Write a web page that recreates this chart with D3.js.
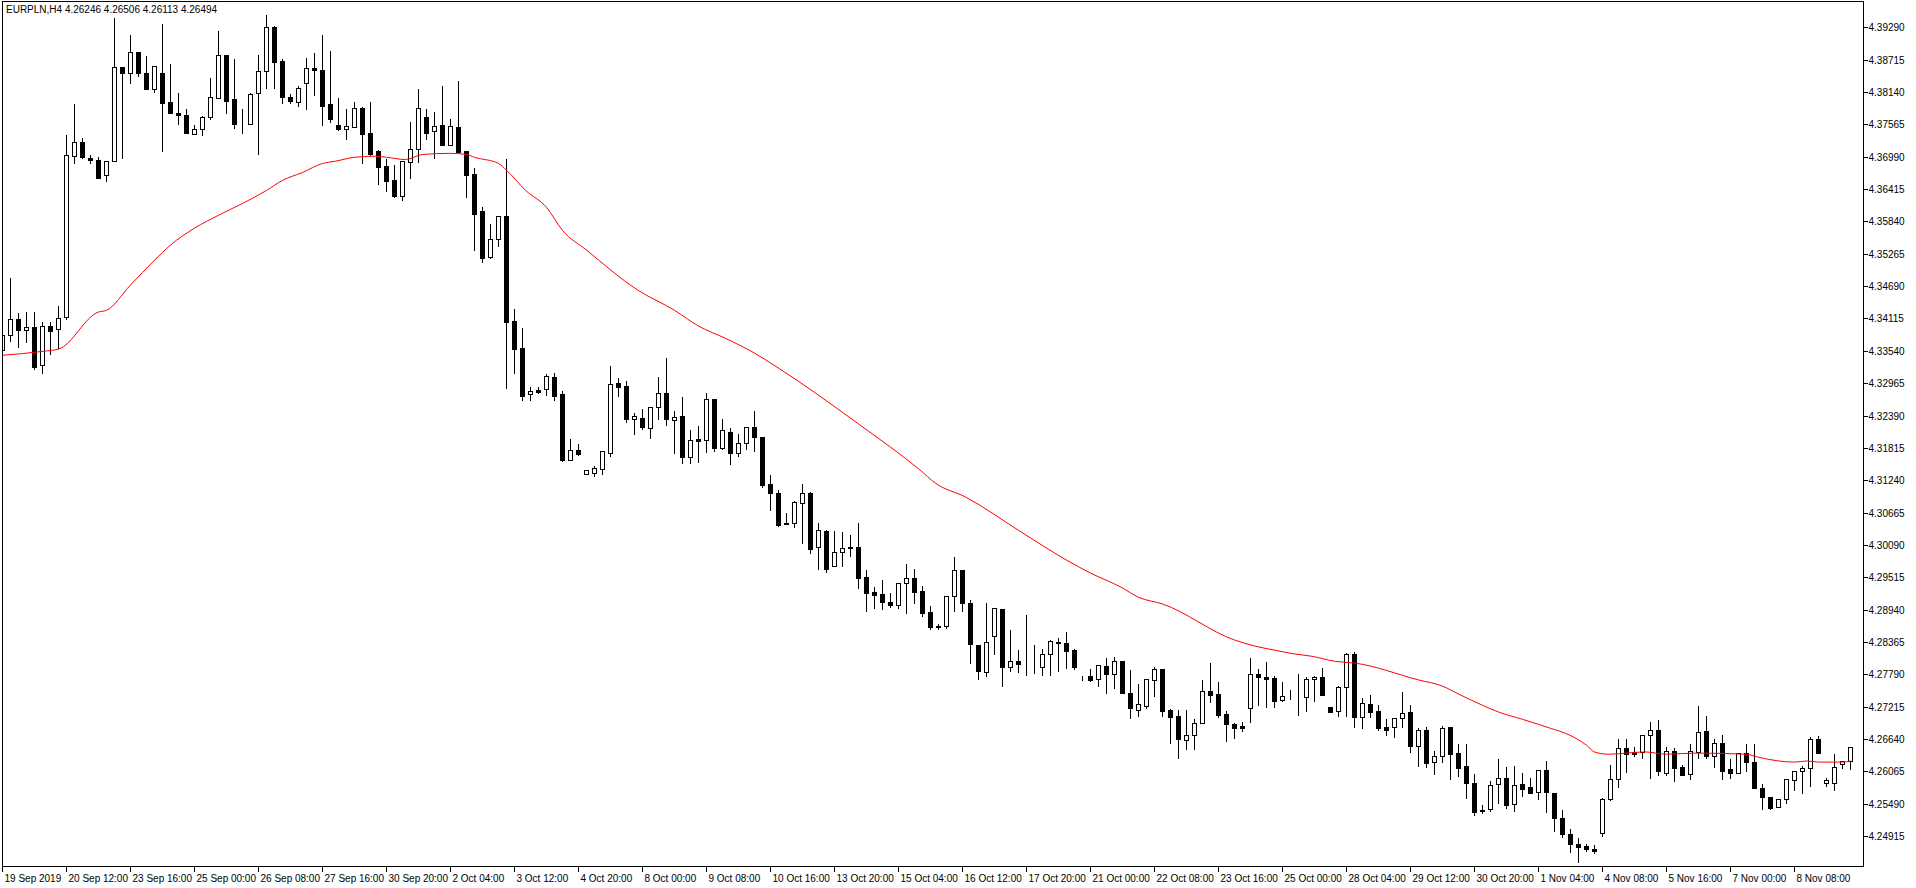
<!DOCTYPE html>
<html><head><meta charset="utf-8">
<script src="https://cdn.jsdelivr.net/npm/d3@7/dist/d3.min.js"></script>
<style>body{margin:0;background:#fff}svg{display:block}text{font-family:"Liberation Sans",Arial,sans-serif;font-size:10px;fill:#000}</style>
</head><body><svg id="c" width="1916" height="888"></svg>
<script>
const title = "EURPLN,H4  4.26246 4.26506 4.26113 4.26494";
const timeLabels = ["19 Sep 2019","20 Sep 12:00","23 Sep 16:00","25 Sep 00:00","26 Sep 08:00","27 Sep 16:00","30 Sep 20:00","2 Oct 04:00","3 Oct 12:00","4 Oct 20:00","8 Oct 00:00","9 Oct 08:00","10 Oct 16:00","13 Oct 20:00","15 Oct 04:00","16 Oct 12:00","17 Oct 20:00","21 Oct 00:00","22 Oct 08:00","23 Oct 16:00","25 Oct 00:00","28 Oct 04:00","29 Oct 12:00","30 Oct 20:00","1 Nov 04:00","4 Nov 08:00","5 Nov 16:00","7 Nov 00:00","8 Nov 08:00"];
const priceTicks = d3.range(26).map(k => 4.24915 + k*0.00575);
const open = [4.3355,4.3383,4.3410,4.3391,4.3396,4.3328,4.3398,4.3392,4.3414,4.3700,
4.3725,4.3696,4.3694,4.3666,4.3691,4.3858,4.3847,4.3886,4.3847,4.3819,
4.3847,4.3796,4.3776,4.3773,4.3739,4.3748,4.3769,4.3803,4.3879,4.3801,
4.3758,4.3758,4.3812,4.3851,4.3929,4.3870,4.3806,4.3796,4.3830,4.3856,
4.3853,4.3792,4.3755,4.3748,4.3751,4.3785,4.3741,4.3709,4.3682,4.3657,
4.3629,4.3689,4.3712,4.3769,4.3744,4.3755,4.3719,4.3751,4.3709,4.3668,
4.3602,4.3520,4.3552,4.3593,4.3407,4.3359,4.3277,4.3284,4.3286,4.3307,
4.3277,4.3160,4.3177,4.3135,4.3136,4.3144,4.3172,4.3296,4.3291,4.3232,
4.3234,4.3216,4.3255,4.3279,4.3231,4.3238,4.3165,4.3197,4.3195,4.3268,
4.3181,4.3209,4.3172,4.3190,4.3218,4.3200,4.3117,4.3101,4.3048,4.3048,
4.3083,4.3101,4.3005,4.3033,4.2971,4.2996,4.3005,4.3005,4.2952,4.2925,
4.2921,4.2907,4.2902,4.2941,4.2950,4.2927,4.2889,4.2865,4.2865,4.2918,
4.2964,4.2905,4.2831,4.2783,4.2847,4.2895,4.2792,4.2802,4.2797,4.2797,
4.2792,4.2815,4.2836,4.2834,4.2822,4.2772,4.2776,4.2770,4.2794,4.2779,
4.2802,4.2746,4.2715,4.2722,4.2769,4.2788,4.2715,4.2705,4.2662,4.2671,
4.2692,4.2749,4.2744,4.2708,4.2690,4.2687,4.2719,4.2779,4.2774,4.2772,
4.2733,4.2740,4.2738,4.2738,4.2770,4.2774,4.2721,4.2714,4.2756,4.2815,
4.2703,4.2726,4.2714,4.2685,4.2685,4.2701,4.2712,4.2651,4.2680,4.2623,
4.2634,4.2685,4.2639,4.2616,4.2586,4.2536,4.2539,4.2584,4.2594,4.2548,
4.2584,4.2578,4.2570,4.2609,4.2568,4.2523,4.2495,4.2477,4.2474,4.2468,
4.2497,4.2557,4.2593,4.2648,4.2641,4.2641,4.2671,4.2680,4.2603,4.2642,
4.2614,4.2602,4.2641,4.2678,4.2634,4.2657,4.2610,4.2603,4.2639,4.2623,
4.2577,4.2561,4.2543,4.2557,4.2591,4.2607,4.2612,4.2664,4.2586,4.2586,
4.2619,4.26246];
const high = [4.3408,4.3485,4.3423,4.3424,4.3424,4.3407,4.3407,4.3435,4.3739,4.3794,
4.3734,4.3703,4.3700,4.3691,4.3947,4.3858,4.3917,4.3886,4.3879,4.3861,
4.3936,4.3865,4.3814,4.3785,4.3757,4.3774,4.3840,4.3924,4.3881,4.3874,
4.3785,4.3814,4.3881,4.3952,4.3933,4.3874,4.3812,4.3826,4.3877,4.3885,
4.3918,4.3888,4.3805,4.3785,4.3798,4.3789,4.3798,4.3712,4.3696,4.3686,
4.3691,4.3762,4.3821,4.3785,4.3781,4.3826,4.3767,4.3835,4.3709,4.3680,
4.3611,4.3581,4.3593,4.3696,4.3430,4.3396,4.3291,4.3291,4.3314,4.3316,
4.3284,4.3199,4.3190,4.3144,4.3151,4.3176,4.3328,4.3307,4.3302,4.3245,
4.3252,4.3255,4.3309,4.3343,4.3248,4.3273,4.3215,4.3223,4.3280,4.3270,
4.3234,4.3218,4.3208,4.3218,4.3248,4.3202,4.3135,4.3108,4.3067,4.3088,
4.3119,4.3104,4.3049,4.3037,4.3035,4.3033,4.3028,4.3049,4.2966,4.2936,
4.2948,4.2925,4.2943,4.2977,4.2968,4.2937,4.2902,4.2870,4.2920,4.2989,
4.2966,4.2913,4.2833,4.2907,4.2897,4.2897,4.2859,4.2824,4.2886,4.2833,
4.2826,4.2841,4.2845,4.2856,4.2826,4.2778,4.2790,4.2795,4.2810,4.2811,
4.2804,4.2788,4.2763,4.2770,4.2794,4.2788,4.2719,4.2717,4.2717,4.2701,
4.2770,4.2801,4.2767,4.2715,4.2694,4.2696,4.2810,4.2790,4.2802,4.2778,
4.2767,4.2753,4.2781,4.2776,4.2778,4.2792,4.2722,4.2760,4.2818,4.2820,
4.2738,4.2744,4.2726,4.2701,4.2703,4.2749,4.2726,4.2685,4.2687,4.2644,
4.2689,4.2685,4.2657,4.2657,4.2603,4.2548,4.2591,4.2630,4.2616,4.2618,
4.2605,4.2596,4.2609,4.2627,4.2570,4.2539,4.2506,4.2490,4.2479,4.2477,
4.2561,4.2619,4.2666,4.2666,4.2651,4.2673,4.2696,4.2699,4.2651,4.2650,
4.2619,4.2657,4.2724,4.2706,4.2666,4.2673,4.2630,4.2641,4.2657,4.2657,
4.2586,4.2562,4.2557,4.2593,4.2609,4.2618,4.2669,4.2671,4.2596,4.2639,
4.2625,4.26506];
const low = [4.3346,4.3371,4.3360,4.3369,4.3321,4.3314,4.3348,4.3359,4.3410,4.3687,
4.3696,4.3687,4.3662,4.3655,4.3691,4.3696,4.3830,4.3842,4.3819,4.3814,
4.3710,4.3776,4.3757,4.3741,4.3739,4.3737,4.3766,4.3803,4.3776,4.3750,
4.3741,4.3757,4.3703,4.3821,4.3822,4.3794,4.3794,4.3789,4.3783,4.3808,
4.3755,4.3760,4.3746,4.3730,4.3751,4.3687,4.3702,4.3650,4.3638,4.3627,
4.3622,4.3662,4.3689,4.3730,4.3696,4.3719,4.3719,4.3707,4.3627,4.3533,
4.3511,4.3519,4.3540,4.3288,4.3314,4.3266,4.3266,4.3279,4.3275,4.3266,
4.3158,4.3160,4.3168,4.3135,4.3131,4.3135,4.3167,4.3273,4.3227,4.3206,
4.3215,4.3199,4.3232,4.3223,4.3172,4.3154,4.3154,4.3156,4.3174,4.3176,
4.3179,4.3152,4.3167,4.3179,4.3176,4.3112,4.3071,4.3042,4.3046,4.3041,
4.3012,4.2994,4.2966,4.2961,4.2971,4.2971,4.2989,4.2932,4.2891,4.2897,
4.2895,4.2898,4.2897,4.2888,4.2905,4.2882,4.2859,4.2859,4.2861,4.2891,
4.2891,4.2799,4.2770,4.2776,4.2815,4.2758,4.2785,4.2783,4.2778,4.2781,
4.2778,4.2778,4.2785,4.2790,4.2788,4.2769,4.2767,4.2758,4.2746,4.2754,
4.2746,4.2701,4.2705,4.2719,4.2740,4.2705,4.2657,4.2630,4.2646,4.2646,
4.2692,4.2730,4.2703,4.2660,4.2666,4.2678,4.2694,4.2724,4.2721,4.2721,
4.2731,4.2735,4.2706,4.2714,4.2731,4.2742,4.2712,4.2705,4.2705,4.2685,
4.2683,4.2703,4.2680,4.2671,4.2667,4.2685,4.2641,4.2616,4.2614,4.2602,
4.2623,4.2593,4.2598,4.2559,4.2529,4.2532,4.2536,4.2550,4.2541,4.2536,
4.2562,4.2568,4.2557,4.2534,4.2500,4.2490,4.2463,4.2445,4.2465,4.2461,
4.2491,4.2555,4.2578,4.2605,4.2634,4.2630,4.2594,4.2600,4.2600,4.2589,
4.2600,4.2593,4.2630,4.2630,4.2614,4.2593,4.2594,4.2603,4.2607,4.2577,
4.2539,4.2539,4.2543,4.2550,4.2573,4.2568,4.2580,4.2639,4.2580,4.2573,
4.2612,4.26113];
const close = [4.3383,4.3410,4.3391,4.3396,4.3325,4.3398,4.3389,4.3412,4.3702,4.3725,
4.3698,4.3694,4.3662,4.3691,4.3858,4.3847,4.3885,4.3847,4.3819,4.3860,
4.3794,4.3776,4.3773,4.3742,4.3748,4.3769,4.3805,4.3879,4.3798,4.3757,
4.3757,4.3810,4.3851,4.3929,4.3867,4.3805,4.3798,4.3821,4.3856,4.3853,
4.3790,4.3766,4.3748,4.3753,4.3785,4.3739,4.3703,4.3680,4.3655,4.3629,
4.3691,4.3712,4.3785,4.3742,4.3753,4.3719,4.3753,4.3707,4.3666,4.3598,
4.3519,4.3552,4.3593,4.3405,4.3357,4.3273,4.3282,4.3280,4.3309,4.3273,
4.3160,4.3177,4.3170,4.3142,4.3145,4.3176,4.3295,4.3289,4.3232,4.3239,
4.3218,4.3255,4.3279,4.3232,4.3236,4.3165,4.3195,4.3193,4.3268,4.3181,
4.3213,4.3172,4.3190,4.3218,4.3200,4.3115,4.3101,4.3044,4.3046,4.3085,
4.3101,4.3001,4.3035,4.2966,4.2996,4.3003,4.3003,4.2950,4.2923,4.2920,
4.2907,4.2902,4.2941,4.2950,4.2925,4.2888,4.2863,4.2863,4.2918,4.2964,
4.2905,4.2833,4.2785,4.2836,4.2897,4.2792,4.2802,4.2797,4.2798,4.2798,
4.2815,4.2838,4.2834,4.2820,4.2792,4.2773,4.2769,4.2795,4.2779,4.2802,
4.2746,4.2719,4.2726,4.2770,4.2788,4.2714,4.2703,4.2664,4.2671,4.2692,
4.2749,4.2742,4.2706,4.2690,4.2683,4.2683,4.2779,4.2774,4.2770,4.2731,
4.2740,4.2741,4.2739,4.2770,4.2774,4.2742,4.2712,4.2756,4.2815,4.2703,
4.2728,4.2712,4.2683,4.2680,4.2701,4.2710,4.2651,4.2680,4.2621,4.2634,
4.2683,4.2637,4.2612,4.2586,4.2534,4.2537,4.2582,4.2594,4.2547,4.2582,
4.2575,4.2568,4.2609,4.2570,4.2523,4.2495,4.2477,4.2472,4.2468,4.2465,
4.2557,4.2593,4.2648,4.2637,4.2637,4.2671,4.2680,4.2607,4.2642,4.2612,
4.2600,4.2642,4.2676,4.2634,4.2657,4.2607,4.2603,4.2639,4.2623,4.2577,
4.2561,4.2541,4.2557,4.2593,4.2607,4.2612,4.2664,4.2639,4.2591,4.2614,
4.2625,4.26494];
// moving average: bar position, value
const maBar = [0,5,7,12,13,16,19,21,24,27,30,33,35,37.5,40,41.6,44,46.6,48,50.4,52.5,56,58,59,62,63,65.4,68,70,73,79.4,84,87,90.4,94,96.6,107,114.7,116.6,120.4,127,133,136,139.8,142,145,154,156.6,159,161.6,163.7,166.6,169,177,180,182,185,187,190,192,193.5,195.4,198,199,200.7,205.4,207.9,211.6,218,219.4,222,224,225.6,227,230,231];
const maVal = [4.3346,4.3353,4.3357,4.3423,4.3426,4.3471,4.3515,4.3542,4.3572,4.3595,4.3616,4.3639,4.3657,4.3671,4.3687,4.3691,4.3698,4.3700,4.3698,4.3694,4.3703,4.3705,4.3703,4.3698,4.3687,4.3675,4.3639,4.3609,4.3568,4.3533,4.3462,4.3426,4.3398,4.3376,4.3350,4.3327,4.3224,4.3142,4.3119,4.3094,4.3035,4.2982,4.2959,4.2934,4.2916,4.2904,4.2840,4.2829,4.2822,4.2815,4.2811,4.2802,4.2799,4.2769,4.2758,4.2744,4.2724,4.2712,4.2699,4.2690,4.2683,4.2674,4.2653,4.2641,4.2637,4.2641,4.2637,4.2639,4.2637,4.2632,4.2625,4.2623,4.2625,4.2623,4.2623,4.2625];

const svg = d3.select("#c");
const L = 2, R = 1863.5, T = 1.5, B = 866.5;
const x = d3.scaleLinear().domain([0, open.length-1]).range([2.5, 2.5 + 8*(open.length-1)]);
const y = d3.scaleLinear().domain([4.24374, 4.39749]).range([B, T]);
const bars = open.map((o,i)=>({i,o,h:high[i],l:low[i],c:close[i]}));

svg.append("defs").append("clipPath").attr("id","clip").append("rect")
  .attr("x",L).attr("y",T).attr("width",R-L).attr("height",B-T);
const g = svg.append("g").attr("clip-path","url(#clip)");

const cg = g.selectAll("g.c").data(bars).join("g");
cg.append("line").attr("x1",d=>x(d.i)).attr("x2",d=>x(d.i))
  .attr("y1",d=>Math.round(y(d.h))+0.5).attr("y2",d=>Math.round(y(d.l))+0.5)
  .attr("stroke","#000").attr("stroke-width",1).attr("shape-rendering","crispEdges");
cg.append("rect").attr("x",d=>x(d.i)-2).attr("width",4)
  .attr("y",d=>Math.round(y(Math.max(d.o,d.c)))+0.5)
  .attr("height",d=>Math.max(0,Math.round(y(Math.min(d.o,d.c)))-Math.round(y(Math.max(d.o,d.c)))))
  .attr("fill",d=>d.c>=d.o?"#fff":"#000").attr("stroke","#000").attr("stroke-width",1)
  .attr("shape-rendering","crispEdges");

const ma = maBar.map((b,k)=>[b,maVal[k]]);
g.append("path").datum(ma).attr("fill","none").attr("stroke","#ff0000").attr("stroke-width",1)
  .attr("d", d3.line().x(d=>x(d[0])).y(d=>y(d[1])).curve(d3.curveMonotoneX));

// frame
svg.append("rect").attr("x",L).attr("y",T).attr("width",R-L).attr("height",B-T)
  .attr("fill","none").attr("stroke","#000").attr("shape-rendering","crispEdges");

// right axis
const ya = svg.append("g");
priceTicks.forEach(p=>{
  const yy = Math.round(y(p))+0.5;
  ya.append("line").attr("x1",R).attr("x2",R+4).attr("y1",yy).attr("y2",yy).attr("stroke","#000").attr("shape-rendering","crispEdges");
  ya.append("text").attr("x",R+5).attr("y",yy+3.5).text(d3.format(".5f")(p));
});
// bottom axis
timeLabels.forEach((t,k)=>{
  const xx = Math.floor(x(k*8))+0.5;
  svg.append("line").attr("x1",xx).attr("x2",xx).attr("y1",B).attr("y2",B+5).attr("stroke","#000").attr("shape-rendering","crispEdges");
  svg.append("text").attr("x",xx+2).attr("y",B+15).text(t);
});
svg.append("text").attr("x",6).attr("y",13).text(title);
</script></body></html>
